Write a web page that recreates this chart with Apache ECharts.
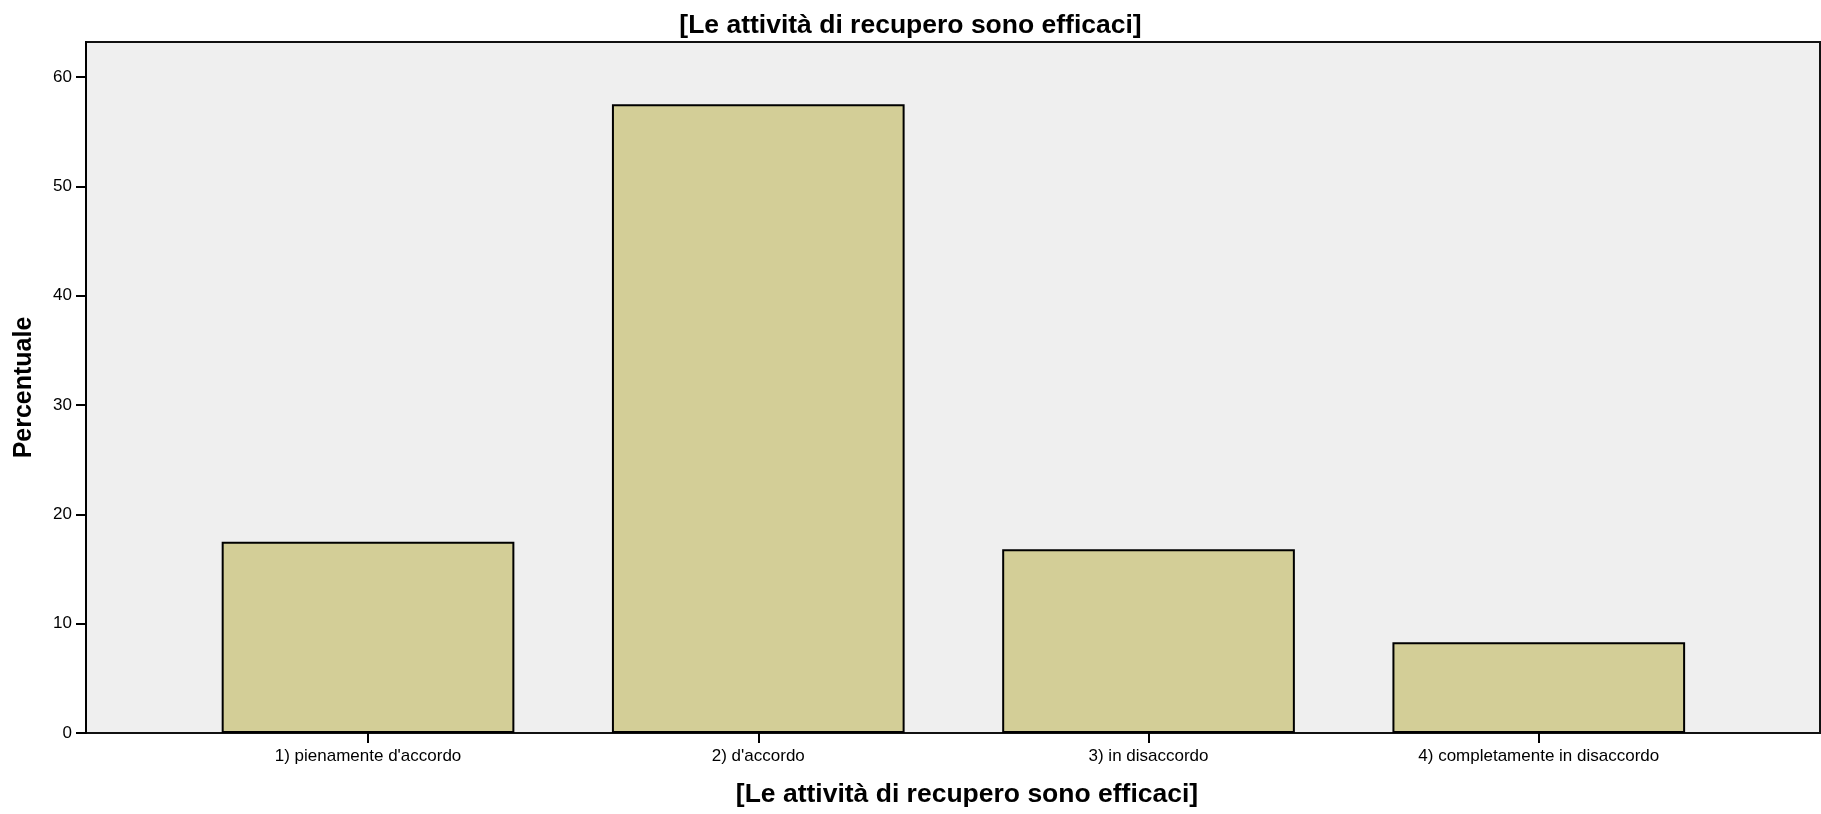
<!DOCTYPE html>
<html>
<head>
<meta charset="utf-8">
<script src="https://cdn.jsdelivr.net/npm/echarts@6/dist/echarts.min.js"></script>
<style>html,body{margin:0;padding:0;background:#fff}#c{width:1821px;height:814px}</style>
</head>
<body>
<div id="c"></div>
<script>
const chartTitle = '[Le attività di recupero sono efficaci]';
const xAxisName = '[Le attività di recupero sono efficaci]';
const yAxisName = 'Percentuale';
const categories = ["1) pienamente d'accordo", "2) d'accordo", "3) in disaccordo", "4) completamente in disaccordo"];
const percentages = [17.5, 57.5, 16.8, 8.3];
const yTicks = [0, 10, 20, 30, 40, 50, 60];
const yMax = 63.2;

const FONT = "'Liberation Sans', Arial, sans-serif";
const chart = echarts.init(document.getElementById('c'), null, {renderer: 'canvas'});
chart.setOption({
  animation: false,
  backgroundColor: '#ffffff',
  title: {
    text: chartTitle, left: 'center', top: 7,
    textStyle: {fontFamily: FONT, fontSize: 26.5, fontWeight: 'bold', color: '#000'}
  },
  grid: [
    {left: 86, right: 1, top: 42, bottom: 81, show: true, backgroundColor: '#efefef', borderColor: '#111', borderWidth: 2},
    {left: 172.9, width: 1561, top: 42, bottom: 81}
  ],
  xAxis: [
    {gridIndex: 0, type: 'value', min: 0, max: 1, show: false},
    {gridIndex: 1, type: 'category', data: categories,
     axisLine: {show: false},
     axisTick: {show: true, alignWithLabel: true, length: 10, lineStyle: {color: '#000', width: 2}},
     axisLabel: {fontFamily: FONT, fontSize: 17, color: '#000', margin: 15, interval: 0},
     splitLine: {show: false}}
  ],
  yAxis: [
    {gridIndex: 0, type: 'value', min: 0, max: yMax,
     axisLine: {show: true, lineStyle: {color: '#000', width: 2}},
     axisTick: {show: true, length: 10, customValues: yTicks, lineStyle: {color: '#000', width: 2}},
     axisLabel: {fontFamily: FONT, fontSize: 17, color: '#000', margin: 14, customValues: yTicks, padding: [6, 0, 0, 0]},
     splitLine: {show: false}},
    {gridIndex: 1, type: 'value', min: 0, max: yMax, show: false}
  ],
  series: [{
    type: 'bar', xAxisIndex: 1, yAxisIndex: 1, data: percentages, barWidth: '75%',
    itemStyle: {color: '#d3ce97', borderColor: '#000', borderWidth: 2},
    emphasis: {disabled: true}
  }],
  graphic: [
    {type: 'text', x: 967, y: 795, style: {text: xAxisName, font: "bold 26.5px 'Liberation Sans', Arial, sans-serif", fill: '#000', textAlign: 'center', textVerticalAlign: 'middle'}},
    {type: 'text', x: 24.5, y: 387.5, rotation: Math.PI / 2, style: {text: yAxisName, font: "bold 25px 'Liberation Sans', Arial, sans-serif", fill: '#000', textAlign: 'center', textVerticalAlign: 'middle'}}
  ]
});
</script>
</body>
</html>
